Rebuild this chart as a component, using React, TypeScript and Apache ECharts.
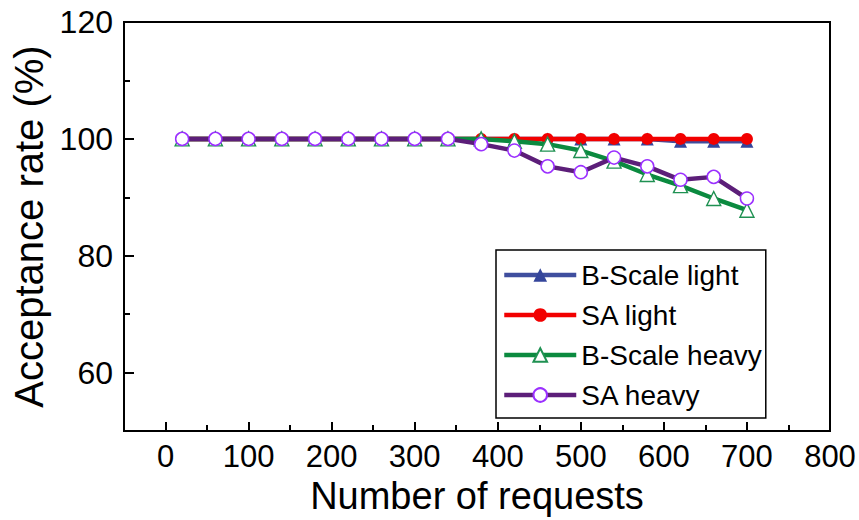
import React, { useEffect, useRef } from "react";
import * as echarts from "echarts";

// Number of requests at which acceptance rate was measured
const requests = [20, 60, 100, 140, 180, 220, 260, 300, 340, 380, 420, 460, 500, 540, 580, 620, 660, 700];

// Acceptance rate (%) per scheme and load
const bScaleLight = [100, 100, 100, 100, 100, 100, 100, 100, 100, 100, 100, 100, 100, 100, 100, 99.6, 99.6, 99.6];
const saLight = [100, 100, 100, 100, 100, 100, 100, 100, 100, 100, 100, 100, 100, 100, 100, 100, 100, 100];
const bScaleHeavy = [100, 100, 100, 100, 100, 100, 100, 100, 100, 100, 99.6, 99.1, 98.0, 96.2, 93.9, 92.0, 89.8, 87.8];
const saHeavy = [100, 100, 100, 100, 100, 100, 100, 100, 100, 99.1, 98.0, 95.3, 94.3, 96.8, 95.3, 93.0, 93.5, 89.8];

const seriesNames = ["B-Scale light", "SA light", "B-Scale heavy", "SA heavy"];

const FONT = 'Arial, "Liberation Sans", sans-serif';

const pairs = (ys: number[]) => requests.map((x, i) => [x, ys[i]]);

export default function App() {
  const ref = useRef<HTMLDivElement>(null);

  useEffect(() => {
    if (!ref.current) return;
    const chart = echarts.init(ref.current, undefined, { renderer: "svg" });

    const axisLineStyle = { color: "#000", width: 2 };
    const tickStyle = { color: "#000", width: 2 };

    const option: any = {
      animation: false,
      backgroundColor: "#fff",
      grid: {
        left: 124,
        right: 29,
        top: 22,
        bottom: 88,
        containLabel: false,
        show: true,
        borderColor: "#000",
        borderWidth: 2,
        backgroundColor: "transparent",
      },
      xAxis: [
        {
          type: "value",
          min: -50,
          max: 800,
          splitNumber: 8,
          position: "bottom",
          name: "Number of requests",
          nameLocation: "middle",
          nameGap: 44,
          nameTextStyle: { fontFamily: FONT, fontSize: 38, color: "#000" },
          axisLine: { show: true, onZero: false, lineStyle: axisLineStyle },
          axisTick: { show: true, inside: true, length: 9, lineStyle: tickStyle },
          axisLabel: {
            fontFamily: FONT,
            fontSize: 31,
            color: "#000",
            margin: 10,
            formatter: (v: number) => (v < 0 ? "" : String(v)),
          },
          splitLine: { show: false },
        },
        {
          // minor ticks half-way between the labelled ones
          type: "value",
          min: -50,
          max: 800,
          interval: 100,
          position: "bottom",
          axisLine: { show: false, onZero: false },
          axisTick: { show: true, inside: true, length: 6, lineStyle: tickStyle },
          axisLabel: { show: false },
          splitLine: { show: false },
        },
      ],
      yAxis: [
        {
          type: "value",
          min: 50,
          max: 120,
          splitNumber: 4,
          position: "left",
          name: "Acceptance rate (%)",
          nameLocation: "middle",
          nameGap: 70,
          nameTextStyle: { fontFamily: FONT, fontSize: 40, color: "#000" },
          axisLine: { show: true, onZero: false, lineStyle: axisLineStyle },
          axisTick: { show: true, inside: true, length: 10, lineStyle: tickStyle },
          axisLabel: {
            fontFamily: FONT,
            fontSize: 32,
            color: "#000",
            margin: 11,
            formatter: (v: number) => (v < 60 ? "" : String(v)),
          },
          splitLine: { show: false },
        },
        {
          type: "value",
          min: 50,
          max: 120,
          interval: 20,
          position: "left",
          axisLine: { show: false, onZero: false },
          axisTick: { show: true, inside: true, length: 6, lineStyle: tickStyle },
          axisLabel: { show: false },
          splitLine: { show: false },
        },
      ],
      legend: {
        orient: "vertical",
        left: 496,
        top: 250,
        padding: [11, 4, 9, 6],
        itemGap: 12,
        itemWidth: 72,
        itemHeight: 17,
        borderColor: "#000",
        borderWidth: 1.5,
        backgroundColor: "#fff",
        lineStyle: { width: 4.5 },
        textStyle: { fontFamily: FONT, fontSize: 28, color: "#000" },
        data: seriesNames,
      },
      series: [
        {
          name: seriesNames[0],
          type: "line",
          data: pairs(bScaleLight),
          symbol: "triangle",
          symbolSize: 13,
          lineStyle: { color: "#3F4E9E", width: 4.5 },
          itemStyle: { color: "#34459B", borderWidth: 0 },
          z: 2,
        },
        {
          name: seriesNames[1],
          type: "line",
          data: pairs(saLight),
          symbol: "circle",
          symbolSize: 12,
          lineStyle: { color: "#F20000", width: 4.5 },
          itemStyle: { color: "#F20000", borderWidth: 0 },
          z: 3,
        },
        {
          name: seriesNames[2],
          type: "line",
          data: pairs(bScaleHeavy),
          symbol: "triangle",
          symbolSize: 14,
          lineStyle: { color: "#0B8A3F", width: 4.5 },
          itemStyle: { color: "#fff", borderColor: "#1F9152", borderWidth: 1.4 },
          z: 4,
        },
        {
          name: seriesNames[3],
          type: "line",
          data: pairs(saHeavy),
          symbol: "circle",
          symbolSize: 13,
          lineStyle: { color: "#5C1E79", width: 4.5 },
          itemStyle: { color: "#fff", borderColor: "#9B30FF", borderWidth: 1.5 },
          z: 5,
        },
      ],
    };

    chart.setOption(option);
    return () => chart.dispose();
  }, []);

  return (
    <div
      ref={ref}
      style={{ position: "fixed", left: 0, top: 0, width: 859, height: 520, background: "#fff" }}
    />
  );
}
